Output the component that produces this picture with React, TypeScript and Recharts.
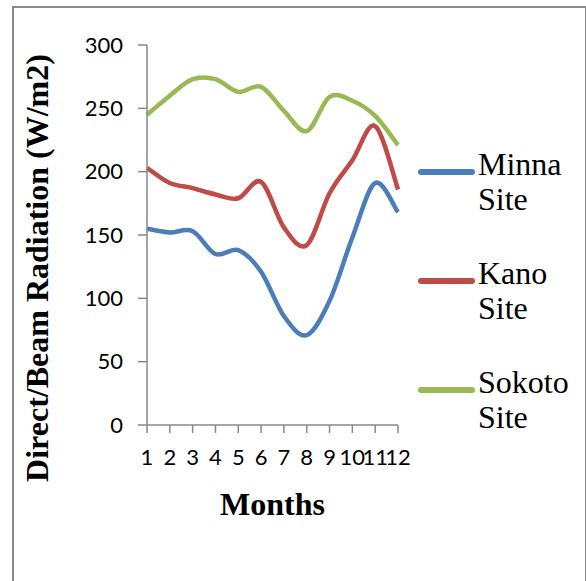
import React from 'react'
import { LineChart, Line, XAxis, YAxis, Legend, Label } from 'recharts'

const months = [1, 2, 3, 4, 5, 6, 7, 8, 9, 10, 11, 12]
const minna = [155, 152, 153, 135, 138, 121, 86, 71, 98, 148, 191, 168]
const kano = [203, 191, 187, 182, 179, 192, 156, 142, 183, 209, 236, 186]
const sokoto = [245, 260, 273, 273, 263, 267, 248, 232, 259, 256, 244, 221]
const yTicks = [0, 50, 100, 150, 200, 250, 300]
const seriesNames = ['Minna Site', 'Kano Site', 'Sokoto Site']

const data = months.map((m, i) => ({
  month: m,
  minna: minna[i],
  kano: kano[i],
  sokoto: sokoto[i],
}))

const axisColor = '#898989'
const tickFont = { fontSize: 22, fill: '#000', fontFamily: 'Lato, sans-serif' }
const serif = '"Liberation Serif", "Times New Roman", serif'

// Excel-style smoothed line (Catmull-Rom through the points)
function smoothCurve(context: any) {
  let pts: number[][] = []
  return {
    areaStart() {},
    areaEnd() {},
    lineStart() { pts = [] },
    point(x: number, y: number) { pts.push([+x, +y]) },
    lineEnd() {
      if (!pts.length) return
      context.moveTo(pts[0][0], pts[0][1])
      for (let i = 0; i < pts.length - 1; i++) {
        const p0 = pts[i - 1] || pts[i]
        const p1 = pts[i]
        const p2 = pts[i + 1]
        const p3 = pts[i + 2] || p2
        const t = 1 / 6
        context.bezierCurveTo(
          p1[0] + (p2[0] - p0[0]) * t, p1[1] + (p2[1] - p0[1]) * t,
          p2[0] - (p3[0] - p1[0]) * t, p2[1] - (p3[1] - p1[1]) * t,
          p2[0], p2[1]
        )
      }
    },
  }
}

function LegendBox({ payload }: any) {
  const items = (payload || []).slice().sort(
    (a: any, b: any) => seriesNames.indexOf(a.value) - seriesNames.indexOf(b.value)
  )
  return (
    <div style={{ position: 'absolute', left: 0, top: 0, width: 0, height: 0 }}>
      {items.map((p: any, i: number) => {
        const [first, second] = String(p.value).split(' ')
        const top = 172 + i * 109
        return (
          <div key={p.value}>
            <div style={{ position: 'absolute', left: 418, top: top - 3, width: 57, height: 6, borderRadius: 3, background: p.color }} />
            <div style={{ position: 'absolute', left: 478, top: top - 25, fontFamily: serif, fontSize: 32, lineHeight: '35px', color: '#000', whiteSpace: 'nowrap' }}>
              {first}<br />{second}
            </div>
          </div>
        )
      })}
    </div>
  )
}

export default function App() {
  return (
    <div style={{ position: 'absolute', left: 0, top: 0, width: 586, height: 581, background: '#fff', overflow: 'hidden' }}>
      <div style={{ position: 'absolute', left: 12, top: 6, width: 571, height: 600, border: '2px solid #8a8a8a' }} />
      <LineChart
        width={586}
        height={581}
        data={data}
        margin={{ top: 45, right: 188, bottom: 116, left: 87 }}
        style={{ position: 'absolute', left: 0, top: 0 }}
      >
        <XAxis
          dataKey="month"
          type="number"
          domain={[1, 12]}
          ticks={months}
          interval={0}
          height={40}
          stroke={axisColor}
          strokeWidth={1.5}
          tickSize={8}
          tickMargin={16}
          tick={tickFont}
        >
          <Label
            content={({ viewBox }: any) => (
              <text x={viewBox.x + viewBox.width / 2} y={515} textAnchor="middle" fontFamily={serif} fontWeight="bold" fontSize={32} fill="#000">
                Months
              </text>
            )}
          />
        </XAxis>
        <YAxis
          domain={[0, 300]}
          ticks={yTicks}
          width={60}
          stroke={axisColor}
          strokeWidth={1.5}
          tickSize={9}
          tickMargin={15}
          tick={tickFont}
        >
          <Label
            content={() => (
              <text x={48} y={268} transform="rotate(-90, 48, 268)" textAnchor="middle" fontFamily={serif} fontWeight="bold" fontSize={32} fill="#000">
                Direct/Beam Radiation (W/m2)
              </text>
            )}
          />
        </YAxis>
        <Legend
          layout="horizontal"
          verticalAlign="middle"
          align="center"
          content={<LegendBox />}
          wrapperStyle={{ left: 0, top: 0, width: 0, height: 0 }}
        />
        <Line type={smoothCurve as any} dataKey="minna" name="Minna Site" stroke="#4A7EBB" strokeWidth={4.5} dot={false} isAnimationActive={false} />
        <Line type={smoothCurve as any} dataKey="kano" name="Kano Site" stroke="#BE4B48" strokeWidth={4.5} dot={false} isAnimationActive={false} />
        <Line type={smoothCurve as any} dataKey="sokoto" name="Sokoto Site" stroke="#98B954" strokeWidth={4.5} dot={false} isAnimationActive={false} />
      </LineChart>
    </div>
  )
}
